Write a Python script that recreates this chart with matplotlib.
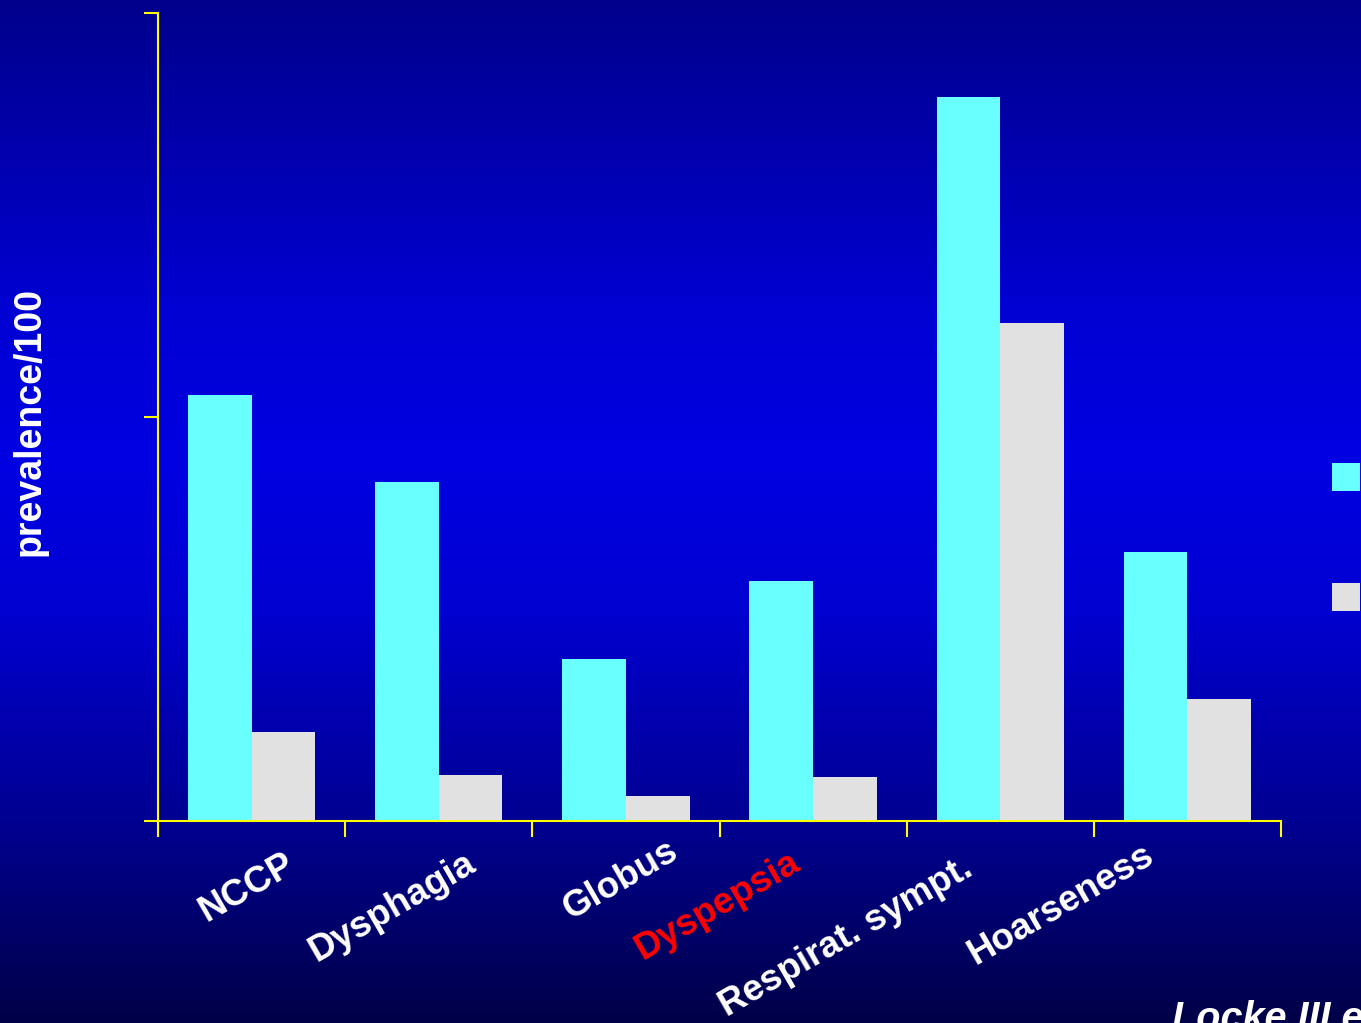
import numpy as np
import matplotlib
matplotlib.use('Agg')
import matplotlib.pyplot as plt
from matplotlib.colors import LinearSegmentedColormap

# Data
categories = ['NCCP', 'Dysphagia', 'Globus', 'Dyspepsia', 'Respirat. sympt.', 'Hoarseness']
series_a = [10.55, 8.4, 4.0, 5.95, 17.92, 6.65]
series_b = [2.2, 1.15, 0.62, 1.1, 12.32, 3.02]
y_ticks = [0, 10, 20]
label_colors = ['white', 'white', 'white', 'red', 'white', 'white']

# label centres in figure pixels (rotated labels were placed by hand on the slide)
label_pos_px = [(247, 888), (392, 907), (621, 880), (717, 906), (846, 937), (1061, 905)]

W, H = 1361, 1023
fig = plt.figure(figsize=(W / 100, H / 100), dpi=100)

# Background gradient: dark navy -> bright blue -> dark navy
bg = fig.add_axes([0, 0, 1, 1], zorder=-10)
cmap = LinearSegmentedColormap.from_list('slide', [
    (0.0, '#00008c'),
    (0.30, '#0000d2'),
    (0.45, '#0000e2'),
    (0.60, '#0000d0'),
    (0.80, '#000092'),
    (1.0, '#000048'),
])
grad = np.linspace(0, 1, 512).reshape(-1, 1)
bg.imshow(grad, aspect='auto', cmap=cmap, extent=[0, 1, 0, 1], origin='upper')
bg.axis('off')

ax = fig.add_axes([158 / W, 1 - 821 / H, (1281 - 158) / W, (821 - 13) / H])
ax.set_facecolor('none')

x = np.arange(len(categories)) + 0.5
w = 0.34
b1 = ax.bar(x - w / 2, series_a, width=w, color='#6affff', zorder=2)
b2 = ax.bar(x + w / 2, series_b, width=w, color='#e1e1e1', zorder=2)

ax.set_xlim(0, len(categories))
ax.set_ylim(y_ticks[0], y_ticks[-1])
ax.set_xticks(np.arange(len(categories) + 1))
ax.set_xticklabels([])
ax.set_yticks(y_ticks)
ax.set_yticklabels([])
ax.tick_params(axis='x', direction='out', length=11.5, width=1.5, color='#ffff00')
ax.tick_params(axis='y', direction='out', length=10, width=1.5, color='#ffff00')
for s in ['top', 'right']:
    ax.spines[s].set_visible(False)
for s in ['left', 'bottom']:
    ax.spines[s].set_color('#ffff00')
    ax.spines[s].set_linewidth(1.5)

font = 'Liberation Sans'
for cat, col, (px, py) in zip(categories, label_colors, label_pos_px):
    fig.text(px / W, 1 - py / H, cat, rotation=30, rotation_mode='anchor',
             ha='center', va='center', color=col, fontsize=26.5,
             fontweight='bold', family=font)

fig.text(30 / W, 1 - 421 / H, 'prevalence/100', rotation=90, ha='center', va='center',
         color='white', fontsize=27, fontweight='bold', family=font)

# reference line runs off the slide at the bottom right
fig.text(1172 / W, 1 - 1030 / H, 'Locke III et al.', ha='left', va='baseline',
         color='white', fontsize=28.5, fontweight='bold', style='italic', family=font)

# legend: only the swatches are on the slide, the labels run off the edge
fig.legend(handles=[b1, b2], labels=['', ''], loc='upper left',
           bbox_to_anchor=(1332 / W, 1 - 463 / H), frameon=False, borderpad=0,
           borderaxespad=0, handlelength=1.0, handleheight=1.16, handletextpad=0,
           labelspacing=3.28, fontsize=20)

fig.savefig('out.png', dpi=100)
